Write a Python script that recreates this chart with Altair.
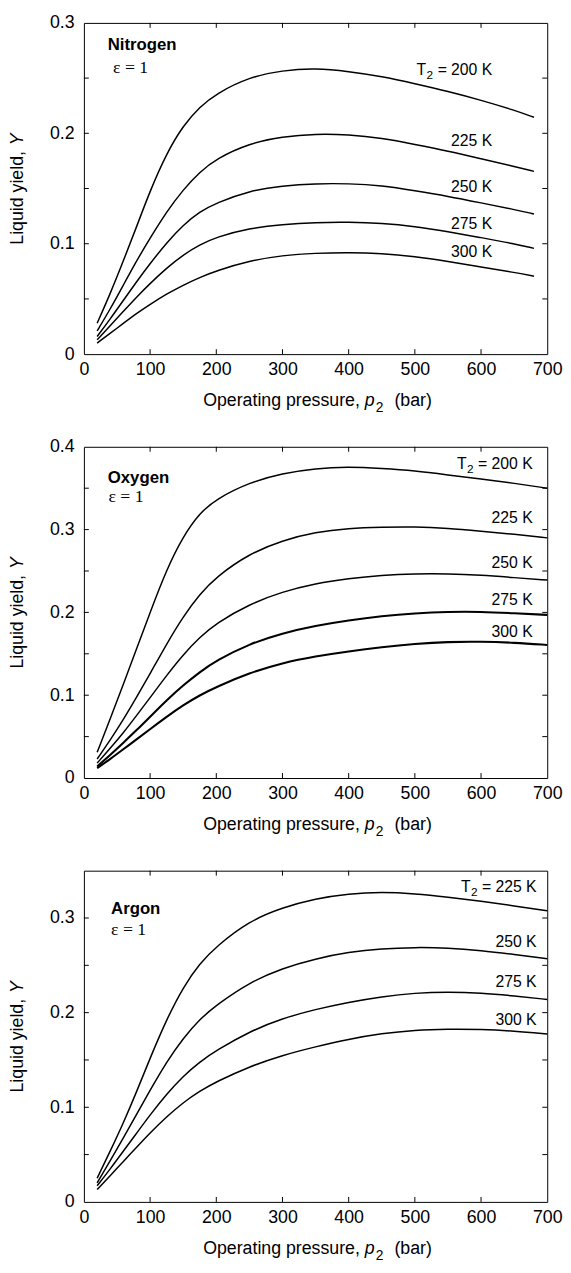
import altair as alt
import pandas as pd

# ---------------- data ----------------
P_N2 = [20, 40, 60, 80, 100, 125, 150, 175, 200, 250, 300, 350, 400, 450, 500, 550, 600, 650, 680]
P_O2 = [20, 40, 60, 80, 100, 125, 150, 175, 200, 250, 300, 350, 400, 450, 500, 550, 600, 650, 700]
P_AR = [20, 40, 60, 80, 100, 125, 150, 175, 200, 250, 300, 350, 400, 450, 500, 550, 600, 650, 700]

N2_200 = [0.028, 0.055, 0.085, 0.116, 0.148, 0.182, 0.207, 0.224, 0.236, 0.251, 0.257, 0.259, 0.256, 0.2515, 0.245, 0.238, 0.230, 0.221, 0.2145]
N2_225 = [0.021, 0.041, 0.063, 0.085, 0.105, 0.129, 0.149, 0.165, 0.177, 0.191, 0.197, 0.1995, 0.1988, 0.1957, 0.190, 0.184, 0.177, 0.170, 0.1655]
N2_250 = [0.016, 0.032, 0.049, 0.066, 0.082, 0.101, 0.117, 0.129, 0.137, 0.148, 0.1525, 0.1545, 0.1545, 0.1527, 0.148, 0.143, 0.137, 0.131, 0.127]
N2_275 = [0.013, 0.026, 0.039, 0.052, 0.064, 0.078, 0.090, 0.099, 0.106, 0.114, 0.1175, 0.1193, 0.1196, 0.1186, 0.1157, 0.111, 0.1055, 0.100, 0.0958]
N2_300 = [0.010, 0.019, 0.028, 0.037, 0.045, 0.0545, 0.0625, 0.0695, 0.0755, 0.0845, 0.0895, 0.0915, 0.092, 0.0913, 0.0884, 0.084, 0.079, 0.074, 0.0706]

O2_200 = [0.031, 0.072, 0.114, 0.157, 0.200, 0.252, 0.292, 0.320, 0.337, 0.357, 0.368, 0.374, 0.3758, 0.3738, 0.371, 0.366, 0.361, 0.356, 0.350]
O2_225 = [0.023, 0.046, 0.071, 0.098, 0.126, 0.162, 0.195, 0.222, 0.243, 0.271, 0.287, 0.297, 0.3016, 0.303, 0.3036, 0.3016, 0.298, 0.2944, 0.290]
O2_250 = [0.018, 0.036, 0.055, 0.076, 0.097, 0.124, 0.149, 0.170, 0.187, 0.210, 0.225, 0.235, 0.241, 0.245, 0.2468, 0.2468, 0.245, 0.242, 0.239]
O2_275 = [0.014, 0.028, 0.043, 0.058, 0.074, 0.094, 0.112, 0.128, 0.142, 0.162, 0.175, 0.184, 0.1905, 0.1956, 0.199, 0.2008, 0.2008, 0.199, 0.197]
O2_300 = [0.012, 0.023, 0.035, 0.047, 0.059, 0.074, 0.088, 0.100, 0.110, 0.127, 0.139, 0.147, 0.153, 0.158, 0.162, 0.1645, 0.1647, 0.1635, 0.1607]

AR_225 = [0.025, 0.054, 0.084, 0.117, 0.152, 0.193, 0.227, 0.252, 0.270, 0.297, 0.311, 0.3205, 0.3257, 0.3274, 0.3257, 0.322, 0.3177, 0.3128, 0.3076]
AR_250 = [0.020, 0.044, 0.068, 0.093, 0.118, 0.148, 0.173, 0.193, 0.208, 0.232, 0.247, 0.257, 0.264, 0.2677, 0.269, 0.2684, 0.2656, 0.2615, 0.257]
AR_275 = [0.017, 0.035, 0.054, 0.073, 0.092, 0.114, 0.133, 0.148, 0.160, 0.180, 0.194, 0.2035, 0.211, 0.217, 0.2208, 0.2219, 0.2208, 0.2177, 0.2139]
AR_300 = [0.013, 0.028, 0.043, 0.058, 0.073, 0.090, 0.105, 0.117, 0.127, 0.143, 0.155, 0.164, 0.172, 0.178, 0.1816, 0.1826, 0.1823, 0.1806, 0.1774]

TEMPS_N2 = ["200 K", "225 K", "250 K", "275 K", "300 K"]
TEMPS_O2 = ["200 K", "225 K", "250 K", "275 K", "300 K"]
TEMPS_AR = ["225 K", "250 K", "275 K", "300 K"]
THICK_O2 = ["275 K", "300 K"]

LABEL_X = {"N2": 617, "O2": 678, "AR": 684}
LABEL_Y_N2 = [0.257, 0.193, 0.151, 0.118, 0.092]
LABEL_Y_O2 = [0.379, 0.314, 0.260, 0.215, 0.176]
LABEL_Y_AR = [0.333, 0.275, 0.232, 0.192]

NAMES = {"N2": "Nitrogen", "O2": "Oxygen", "AR": "Argon"}
NAME_POS = {"N2": (36, 0.280), "O2": (36, 0.362), "AR": (41, 0.309)}
EPS_POS = {"N2": (44, 0.259), "O2": (37, 0.339), "AR": (41, 0.2875)}

Y_MAX = {"N2": 0.3, "O2": 0.4, "AR": 0.35}
Y_LABELS = {"N2": [0, 0.1, 0.2, 0.3], "O2": [0, 0.1, 0.2, 0.3, 0.4], "AR": [0, 0.1, 0.2, 0.3]}
Y_TICKS = {"N2": [0.05, 0.1, 0.15, 0.2, 0.25],
           "O2": [0.05, 0.1, 0.15, 0.2, 0.25, 0.3, 0.35],
           "AR": [0.05, 0.1, 0.15, 0.2, 0.25, 0.3]}
X_LABELS = [0, 100, 200, 300, 400, 500, 600, 700]
X_TICKS = [100, 200, 300, 400, 500, 600]

FONT = "Liberation Sans"
SERIF = "Liberation Serif"
W, H = 470, 336
TL = 5  # inner tick length


def panel(key, pressures, series, temps, label_y, thick=()):
    rows = []
    for t, vals in zip(temps, series):
        for p, v in zip(pressures, vals):
            rows.append({"p": p, "Y": v, "T": t})
    df = pd.DataFrame(rows)

    xsc = alt.Scale(domain=[0, 700], nice=False, zero=False)
    ysc = alt.Scale(domain=[0, Y_MAX[key]], nice=False)
    xax = alt.Axis(values=X_LABELS, ticks=False, domain=False, grid=False, title=None,
                   labelFont=FONT, labelFontSize=18, labelPadding=7, labelColor="black",
                   labelFlush=False, labelOverlap=False, format="d")
    yax = alt.Axis(values=Y_LABELS[key], ticks=False, domain=False, grid=False, title=None,
                   labelFont=FONT, labelFontSize=18, labelPadding=10, labelColor="black",
                   labelFlush=False, labelOverlap=False,
                   labelExpr="datum.value == 0 ? '0' : format(datum.value, '.1f')")

    def X(f):
        return alt.X(f, scale=xsc, axis=xax)

    def Y(f):
        return alt.Y(f, scale=ysc, axis=yax)

    thin = alt.Chart(df).transform_filter(
        alt.FieldOneOfPredicate(field="T", oneOf=[t for t in temps if t not in thick])
    ).mark_line(color="black", strokeWidth=1.5, interpolate="basis").encode(
        x=X("p:Q"), y=Y("Y:Q"), detail="T:N")
    layers = [thin]
    if thick:
        layers.append(alt.Chart(df).transform_filter(
            alt.FieldOneOfPredicate(field="T", oneOf=list(thick))
        ).mark_line(color="black", strokeWidth=2.1, interpolate="basis").encode(
            x=X("p:Q"), y=Y("Y:Q"), detail="T:N"))

    xt = pd.DataFrame({"v": X_TICKS})
    yt = pd.DataFrame({"v": Y_TICKS[key]})
    layers += [
        alt.Chart(xt).mark_rule(color="black", strokeWidth=1).encode(
            x=X("v:Q"), y=alt.value(H), y2=alt.value(H - TL)),
        alt.Chart(xt).mark_rule(color="black", strokeWidth=1).encode(
            x=X("v:Q"), y=alt.value(0), y2=alt.value(TL)),
        alt.Chart(yt).mark_rule(color="black", strokeWidth=1).encode(
            y=Y("v:Q"), x=alt.value(0), x2=alt.value(TL)),
        alt.Chart(yt).mark_rule(color="black", strokeWidth=1).encode(
            y=Y("v:Q"), x=alt.value(W), x2=alt.value(W - TL)),
    ]

    # curve labels
    lab = pd.DataFrame({"x": [LABEL_X[key]] * len(temps), "y": label_y, "t": list(temps)})
    first = lab.iloc[[0]]
    txt = dict(font=FONT, fontSize=16, baseline="middle", color="black")
    layers += [
        alt.Chart(lab).mark_text(align="right", **txt).encode(x=X("x:Q"), y=Y("y:Q"), text="t:N"),
        alt.Chart(first).mark_text(align="right", dx=-46, **txt).encode(
            x=X("x:Q"), y=Y("y:Q"), text=alt.value("=")),
        alt.Chart(first).mark_text(align="right", dx=-60, dy=5, font=FONT, fontSize=12,
                                   baseline="middle", color="black").encode(
            x=X("x:Q"), y=Y("y:Q"), text=alt.value("2")),
        alt.Chart(first).mark_text(align="right", dx=-67, **txt).encode(
            x=X("x:Q"), y=Y("y:Q"), text=alt.value("T")),
    ]

    nm = pd.DataFrame({"x": [NAME_POS[key][0]], "y": [NAME_POS[key][1]], "t": [NAMES[key]]})
    ep = pd.DataFrame({"x": [EPS_POS[key][0]], "y": [EPS_POS[key][1]], "t": ["ε = 1"]})
    layers += [
        alt.Chart(nm).mark_text(font=FONT, fontSize=17, fontWeight="bold", align="left",
                                baseline="middle", color="black").encode(
            x=X("x:Q"), y=Y("y:Q"), text="t:N"),
        alt.Chart(ep).mark_text(font=SERIF, fontSize=18, align="left", baseline="middle",
                                color="black").encode(x=X("x:Q"), y=Y("y:Q"), text="t:N"),
    ]

    one = pd.DataFrame({"k": [0]})
    layers += [
        alt.Chart(one).mark_text(font=FONT, fontSize=18, angle=270, align="right",
                                 baseline="middle", color="black", text="Liquid yield,").encode(
            x=alt.value(-67), y=alt.value(130)),
        alt.Chart(one).mark_text(font=FONT, fontSize=18, fontStyle="italic", angle=270,
                                 align="left", baseline="middle", color="black", text="Y").encode(
            x=alt.value(-67), y=alt.value(124)),
        alt.Chart(one).mark_text(font=FONT, fontSize=18, align="right", baseline="alphabetic",
                                 color="black", text="Operating pressure,").encode(
            x=alt.value(280), y=alt.value(H + 53)),
        alt.Chart(one).mark_text(font=FONT, fontSize=18, fontStyle="italic", align="left",
                                 baseline="alphabetic", color="black", text="p").encode(
            x=alt.value(285), y=alt.value(H + 53)),
        alt.Chart(one).mark_text(font=FONT, fontSize=14, align="left", baseline="alphabetic",
                                 color="black", text="2").encode(
            x=alt.value(296), y=alt.value(H + 59)),
        alt.Chart(one).mark_text(font=FONT, fontSize=18, align="left", baseline="alphabetic",
                                 color="black", text="(bar)").encode(
            x=alt.value(315), y=alt.value(H + 53)),
        alt.Chart(one).mark_rule(strokeOpacity=0, strokeWidth=1).encode(
            x=alt.value(-76.5), x2=alt.value(-76.5), y=alt.value(20), y2=alt.value(30)),
    ]

    return alt.layer(*layers).properties(width=W, height=H)


p1 = panel("N2", P_N2, [N2_200, N2_225, N2_250, N2_275, N2_300], TEMPS_N2, LABEL_Y_N2)
p2 = panel("O2", P_O2, [O2_200, O2_225, O2_250, O2_275, O2_300], TEMPS_O2, LABEL_Y_O2, THICK_O2)
p3 = panel("AR", P_AR, [AR_225, AR_250, AR_275, AR_300], TEMPS_AR, LABEL_Y_AR)

chart = alt.vconcat(p1, p2, p3, spacing=94, bounds="flush").properties(
    padding={"left": 0, "top": -4, "right": 0, "bottom": 0}
).configure_view(stroke="black", strokeWidth=1)

chart.save("out.html", embed_options={"renderer": "svg", "actions": False})
